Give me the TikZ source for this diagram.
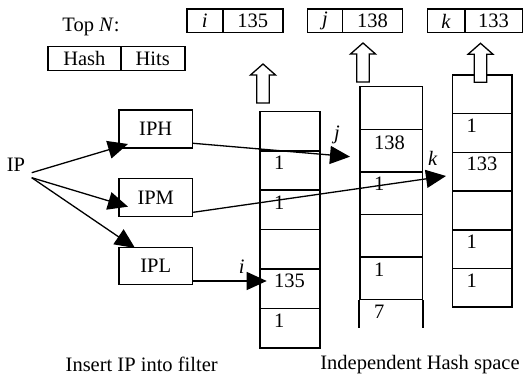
\documentclass[tikz,border=0pt]{standalone}
\usepackage{fontspec}
\setmainfont{Liberation Serif}
\usetikzlibrary{arrows.meta,calc}
\tikzset{
  cellbox/.style={draw, line width=1.5pt, inner sep=0pt, anchor=north west},
  val/.style={anchor=west, inner sep=0pt},
  conn/.style={line width=1.3pt, -{Triangle[length=20pt,width=18pt]}},
  hollow/.style={draw, fill=white, line width=1.3pt, line join=miter},
  uparr/.pic={\path[hollow] (0,0) -- (12.5,11) -- (6.3,11) -- (6.3,39) -- (-6.3,39) -- (-6.3,11) -- (-12.5,11) -- cycle;}
}
\begin{document}
\begin{tikzpicture}[x=1pt,y=-1pt,font=\fontsize{20.5}{24}\selectfont]
\useasboundingbox (0,0) rectangle (523,379);
% top N boxes
\node (topn) at (91,27) {Top \textit{N}:};
\node[cellbox, minimum width=36pt, minimum height=23.5pt] (ti) at (186,8.5) {\textit{i}};
\node[cellbox, minimum width=60pt, minimum height=23.5pt] (tiv) at (222,8.5) {135};
\node[cellbox, minimum width=35pt, minimum height=23.5pt] (tj) at (306.7,8.5) {\textit{j}};
\node[cellbox, minimum width=60pt, minimum height=23.5pt] (tjv) at (341.7,8.5) {138};
\node[cellbox, minimum width=37.3pt, minimum height=23.5pt] (tk) at (426.7,8.5) {\textit{k}};
\node[cellbox, minimum width=57.5pt, minimum height=23.5pt] (tkv) at (464,8.5) {133};
\node[cellbox, minimum width=72.7pt, minimum height=24pt] (hash) at (47.3,46) {Hash};
\node[cellbox, minimum width=64pt, minimum height=24pt] (hits) at (120,46) {Hits};
% IP and filters
\node (ip) at (16,165) {IP};
\node[cellbox, minimum width=73.4pt, minimum height=38pt] (iph) at (118.3,109.3) {IPH};
\node[cellbox, minimum width=73.4pt, minimum height=37.7pt] (ipm) at (118.3,178) {IPM};
\node[cellbox, minimum width=73.4pt, minimum height=37.3pt] (ipl) at (118.3,246.7) {IPL};
% column 1
\foreach \i in {0,...,5} {
  \node[cellbox, minimum width=60pt, minimum height=39.4pt] (ca\i) at (259,110.7+39.4*\i) {};
}
% column 2
\foreach \i in {0,...,4} {
  \node[cellbox, minimum width=62.7pt, minimum height=42.6pt] (cb\i) at (359,86+42.6*\i) {};
}
\coordinate (cbL) at ($(cb4.south west)+(0,28)$);
\coordinate (cbR) at ($(cb4.south east)+(0,28)$);
\draw[line width=1.5pt] (cb4.south west) -- (cbL);
\draw[line width=1.5pt] (cb4.south east) -- (cbR);
% column 3
\foreach \i in {0,...,5} {
  \node[cellbox, minimum width=59.5pt, minimum height=38.7pt] (cc\i) at (451.5,74.3+38.7*\i) {};
}
% values
\node[val] (va1) at ($(ca1.north west)+(15,13)$) {1};
\node[val] (va2) at ($(ca2.north west)+(15,13)$) {1};
\node[val] (va4) at ($(ca4.north west)+(15,13)$) {135};
\node[val] (va5) at ($(ca5.north west)+(15,13)$) {1};
\node[val] (vb1) at ($(cb1.north west)+(15,14)$) {138};
\node[val] (vb2) at ($(cb2.north west)+(15,13)$) {1};
\node[val] (vb4) at ($(cb4.north west)+(15,13)$) {1};
\node[val] (vb5) at ($(cb4.south west)+(15,11)$) {7};
\node[val] (vc1) at ($(cc1.north west)+(15,12.5)$) {1};
\node[val] (vc2) at ($(cc2.north west)+(15,12.5)$) {133};
\node[val] (vc4) at ($(cc4.north west)+(15,12.5)$) {1};
\node[val] (vc5) at ($(cc5.north west)+(15,12.5)$) {1};
% hollow arrows
\pic at (263,64) {uparr};
\pic at (363,43) {uparr};
\pic at (480.5,43.3) {uparr};
% connectors
\coordinate (ipA) at (31.7,172.7);
\coordinate (ipB) at (31.7,177.7);
\coordinate (tH) at (128,144);
\coordinate (tM) at (128,206.7);
\coordinate (tL) at (135,248);
\draw[conn] (ipA) -- (tH);
\draw[conn] (ipB) -- (tM);
\draw[conn] (ipB) -- (tL);
\coordinate (sH) at (iph.east |- 0,143.3);
\coordinate (sM) at (ipm.east |- 0,212.3);
\coordinate (sL) at (ipl.east |- 0,281);
\coordinate (eH) at (350,156.7);
\coordinate (eM) at (446,176);
\coordinate (eL) at (266.7,281);
\draw[conn] (sH) -- (eH);
\draw[conn] (sM) -- (eM);
\draw[conn] (sL) -- (eL);
\node (lj) at (337,135) {\textit{j}};
\node (lk) at (432.7,158) {\textit{k}};
\node (li) at (241.7,266.7) {\textit{i}};
% captions
\node (cap1) at (141.7,364.5) {Insert IP into filter};
\node (cap2) at (420,364.5) {Independent Hash space};
\end{tikzpicture}
\end{document}
